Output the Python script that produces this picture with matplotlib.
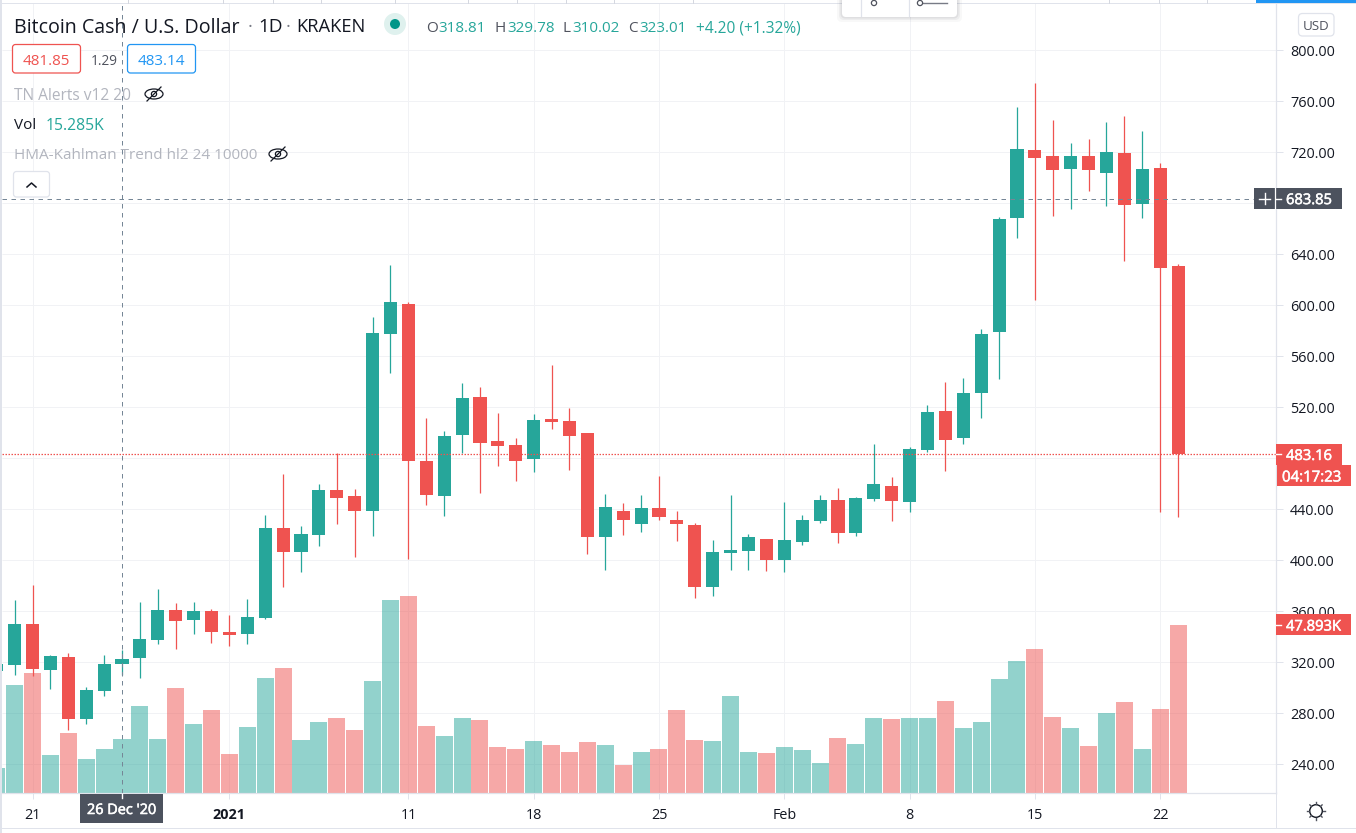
import numpy as np
import matplotlib
matplotlib.use('Agg')
import matplotlib.pyplot as plt
import matplotlib.patheffects as pe
from matplotlib.patches import Circle, Ellipse, FancyBboxPatch, Rectangle

plt.rcParams['font.family'] = ['Open Sans', 'DejaVu Sans']

# daily BCH/USD candles, 19 Dec 2020 to 23 Feb 2021
opens = [313, 318, 350, 314, 324.5, 276, 297.7, 318.81, 323.5, 337.6, 361, 353.3, 360.4,
         344, 342.4, 355, 425.5, 406.7, 420, 455, 450.6, 439, 577.8, 601, 478, 450.6, 498.4,
         528, 493.7, 490.6, 479.6, 511, 509.4, 500, 418.4, 439, 428.7, 441, 432, 428, 379,
         406, 407.6, 417, 400, 414.6, 431, 447.6, 421.6, 448, 458.4, 446, 486.6, 517.6, 496,
         531.4, 579, 668.6, 722, 717, 707, 717, 704, 719.6, 679.6, 707.8, 631]
highs = [321, 369, 381, 326, 327.5, 301, 326, 329.78, 367.5, 377.6, 366.7, 367.5, 362,
         357.2, 370, 436, 468, 427, 460, 484.3, 456, 591, 632, 603, 512, 501.6, 539,
         536, 515.7, 496, 515, 553, 519.6, 500, 452, 445, 451.4, 466, 439, 429.4, 416,
         451.4, 421, 417, 446, 436, 451.4, 457, 450, 491.4, 465.5, 489, 522, 540, 543,
         581.6, 669.5, 755.6, 774.5, 745.5, 727.5, 730.6, 744, 748.6, 737, 712, 632.6]
lows = [312, 310, 309, 299, 267, 272, 293.7, 310.02, 308, 334.5, 330.6, 342.4, 335.3,
        333, 334.5, 354, 379, 391, 411, 428.6, 403, 419, 547, 401, 443.4, 435, 484,
        453, 474, 462, 469.4, 503, 471, 405, 392.5, 420, 422, 432, 415, 370.6, 372,
        392.5, 392.5, 392, 391, 412, 429.4, 414, 419, 446.7, 431, 438, 485, 470, 491.4,
        511.7, 542.5, 653, 604, 670, 675.7, 690, 678, 635, 668.6, 438, 434]
closes = [319, 350.2, 315, 325, 276, 298.5, 318.81, 323.01, 338.4, 361, 352.6, 360.4, 344,
          341.6, 355.7, 425.5, 406.7, 421, 455, 449, 439, 578.6, 602.7, 478, 451.4, 497.6, 527.5,
          492, 490, 478, 510, 508.6, 497.6, 418.4, 442, 432, 441, 434, 428.7, 379, 406.7,
          408, 418.4, 400, 416, 432, 447.6, 421.6, 449, 460, 446.7, 487.4, 516.5, 494.6, 531.4,
          577.6, 668, 722.7, 715.7, 706, 717, 706, 720.4, 679, 707, 629.4, 483.16]
volumes = [7.1, 30.8, 34.2, 10.8, 17.1, 9.7, 12.5, 15.285, 24.8, 15.4, 29.9, 19.7, 23.7,
           11.1, 18.8, 32.8, 35.6, 15.1, 20.2, 21.4, 18.0, 31.9, 55.0, 56.2, 19.1, 16.3, 21.4,
           20.8, 13.1, 12.5, 14.8, 13.7, 11.7, 14.5, 13.7, 8.0, 11.7, 12.5, 23.7, 15.1, 14.8,
           27.7, 11.7, 11.4, 13.1, 12.3, 8.6, 15.7, 14.0, 21.4, 21.1, 21.4, 21.4, 26.2, 18.5,
           20.2, 32.5, 37.6, 41.1, 21.7, 18.5, 13.4, 22.8, 25.9, 12.5, 23.9, 47.893]

price_ticks = [240, 280, 320, 360, 400, 440, 480, 520, 560, 600, 640, 680, 720, 760, 800]
hidden_ticks = [480, 680]  # these two sit under the price tags
day_ticks = [2, 13, 23, 30, 37, 44, 51, 58, 65]
day_labels = ['21', '2021', '11', '18', '25', 'Feb', '8', '15', '22']

last_price = 483.16
last_volume = 47.893
cross_price = 683.85
cross_day = 7

GREEN = '#26a69a'
RED = '#ef5350'
BORDER = '#e0e3eb'
GRID = '#f1f2f5'
TEXT = '#131722'
MUTED = '#b2b5be'
DARK_TAG = '#4c525e'
CROSS = '#758696'
W, H = 1356, 833

opens, highs, lows, closes = map(np.array, (opens, highs, lows, closes))
volumes = np.array(volumes)
days = np.arange(len(opens))
up = closes >= opens
colors = np.where(up, GREEN, RED)

fig = plt.figure(figsize=(W / 100, H / 100), dpi=100, facecolor='white')

# pane covers x 2..1276, y 3..793 in screen pixels
ax_vol = fig.add_axes([2 / W, 1 - 793 / H, 1274 / W, 790 / H])
ax = ax_vol.twinx()
ax.set_zorder(ax_vol.get_zorder() + 1)
ax.patch.set_visible(False)

ax.set_xlim(0.296, 71.47)
ax.set_ylim(217.6, 837.25)
ax_vol.set_ylim(0, 225.2)

# grid sits under the volume bars
ax_vol.vlines(day_ticks, 0, 225.2, color=GRID, lw=0.72, zorder=0)
ax_vol.hlines(price_ticks, 0.296, 71.47, color=GRID, lw=0.72, zorder=0, transform=ax.transData)

ax_vol.bar(days, volumes, width=0.95, color=colors, alpha=0.5, zorder=2, linewidth=0)

# candles
ax.vlines(days, lows, highs, color=colors, lw=0.9, zorder=3)
ax.bar(days, np.abs(closes - opens), bottom=np.minimum(opens, closes), width=0.73,
       color=colors, linewidth=0, zorder=4)

ax.axhline(last_price, color=RED, lw=0.9, ls=(0, (1.2, 1.2)), zorder=5)
ax.axhline(cross_price, color=CROSS, lw=0.72, ls=(0, (4.5, 4.5)), zorder=6)
ax.axvline(cross_day, color=CROSS, lw=0.72, ls=(0, (4.5, 4.5)), zorder=6)

ax_vol.set_yticks([])
ax.yaxis.tick_right()
ax.set_yticks(price_ticks, ['' if p in hidden_ticks else f'{p:.2f}' for p in price_ticks])
ax.tick_params(axis='y', direction='out', length=5, width=0.72, color=BORDER, pad=5,
               labelsize=10.4, labelcolor=TEXT)

# the twin hides its own x axis, so the time scale belongs to the volume axes
ax_vol.set_xticks(day_ticks, day_labels)
ax_vol.tick_params(axis='x', direction='out', length=4, width=0.72, color=BORDER, pad=6.5,
                   labelsize=10.4, labelcolor=TEXT)
ax_vol.get_xticklabels()[1].set_fontweight('bold')

for a in (ax, ax_vol):
    a.spines['top'].set_visible(False)
    a.spines['left'].set_visible(False)
    a.spines['right'].set_color(BORDER)
    a.spines['bottom'].set_color(BORDER)


# everything around the chart is laid out in screen pixels on a transparent layer
ui = fig.add_axes([0, 0, 1, 1], zorder=10)
ui.set_xlim(0, W)
ui.set_ylim(H, 0)
ui.axis('off')


def label(x, y, s, color=TEXT, size=11, ha='left', **kw):
    return ui.text(x, y, s, color=color, fontsize=size, ha=ha, va='center_baseline', **kw)


def tag_label(x, y, s, size=10.6, ha='left'):
    t = label(x, y, s, color='white', size=size, ha=ha, zorder=3)
    t.set_path_effects([pe.withStroke(linewidth=0.4, foreground='white')])


def rect(x0, y0, x1, y1, color, z=2):
    ui.add_patch(Rectangle((x0, y0), x1 - x0, y1 - y0, facecolor=color, edgecolor='none', zorder=z))


def button(x0, y0, x1, y1, edge, radius=3, z=2):
    ui.add_patch(FancyBboxPatch((x0, y0), x1 - x0, y1 - y0, boxstyle=f'round,pad=0,rounding_size={radius}',
                                facecolor='white', edgecolor=edge, lw=0.9, zorder=z))


def eye(x, y):
    ui.add_patch(Ellipse((x, y), 18, 10, facecolor='none', edgecolor=TEXT, lw=0.9))
    ui.add_patch(Circle((x, y), 2.6, facecolor='none', edgecolor=TEXT, lw=0.9))
    ui.plot([x - 7, x + 7], [y + 7, y - 7], color=TEXT, lw=0.9)


def price_y(price):
    return H - ax.transData.transform((0, price))[1]


def volume_y(vol):
    return H - ax_vol.transData.transform((0, vol))[1]


# frame of the surrounding window
rect(0, 0, W, 3, 'white', z=1)
rect(0, 3, W, 4, BORDER, z=1)
rect(0, 0, 2, H, BORDER)
rect(1256, 0, W, 3, '#2196f3')
rect(0, 828, W, 829, BORDER)
ui.plot([1276, 1276], [793, 828], color=BORDER, lw=0.72)
for sx in [128, 223, 273, 321, 395, 468, 517, 566, 614, 693, 1109, 1159, 1207]:
    ui.plot([sx, sx], [0, 3], color='#d5d8e0', lw=0.72)

# floating drawing toolbar at the top edge
for grow, alpha in [(5, 0.03), (3, 0.05), (1.5, 0.07)]:
    ui.add_patch(FancyBboxPatch((842 - grow, -10), 115 + 2 * grow, 27 + grow,
                                boxstyle='round,pad=0,rounding_size=5', facecolor='#2a2e39',
                                edgecolor='none', alpha=alpha, zorder=2))
button(842, -10, 957, 17, 'none', radius=4, z=3)
ui.plot([860.5, 860.5], [0, 16], color=BORDER, lw=0.9, zorder=4)
ui.plot([908.5, 908.5], [0, 16], color=BORDER, lw=0.9, zorder=4)
ui.add_patch(Circle((874, 3), 2.6, facecolor='white', edgecolor='#50535e', lw=0.9, zorder=4))
ui.plot([923, 947], [3, 3], color='#787b86', lw=1, zorder=4)
ui.add_patch(Circle((920, 3), 2.6, facecolor='white', edgecolor='#50535e', lw=0.9, zorder=5))

# legend block
label(14, 25, 'Bitcoin Cash / U.S. Dollar', size=14.1)
label(247.5, 25, '·', color='#787b86', size=13.2)
label(258, 25, '1D', size=13.6)
label(285.5, 25, '·', color='#787b86', size=13.2)
label(296, 25, 'KRAKEN', size=13.2)
ui.add_patch(Circle((395, 24), 11, facecolor='#dff1ee', edgecolor='none'))
ui.add_patch(Circle((395, 24), 5, facecolor='#009688', edgecolor='none'))

for lx, letter, vx, value in [(426, 'O', 438, opens[cross_day]), (495, 'H', 507, highs[cross_day]),
                              (563, 'L', 572, lows[cross_day]), (628, 'C', 639, closes[cross_day])]:
    label(lx, 26, letter, color='#50535e')
    label(vx, 26, f'{value:.2f}', color=GREEN)
label(696, 26, '+4.20 (+1.32%)', color=GREEN, size=11.2)

button(12.5, 44.5, 80.5, 73, RED)
label(46.5, 59, '481.85', color=RED, ha='center')
label(104, 59, '1.29', color='#50535e', ha='center', size=9.8)
button(127.5, 44.5, 195.5, 73, '#2196f3')
label(161.5, 59, '483.14', color='#2196f3', ha='center')

label(14, 93.5, 'TN Alerts v12 20', color=MUTED, size=11.2)
eye(154, 94)
label(14, 123.5, 'Vol')
label(46, 123.5, f'{volumes[cross_day]:.3f}K', color=GREEN, size=11.3)
label(14, 153.5, 'HMA-Kahlman Trend hl2 24 10000', color=MUTED)
eye(278, 154)

button(13.5, 171.5, 49.5, 197, BORDER)
ui.plot([27, 31.5, 36], [187, 183, 187], color=TEXT, lw=1.1)

button(1298.5, 13.5, 1334, 36, BORDER, radius=4)
label(1316, 25, 'USD', color='#50535e', ha='center', size=9.6)

# tags on the price scale
cy = price_y(cross_price)
rect(1254, cy - 10.5, 1342, cy + 10.5, DARK_TAG)
ui.plot([1275, 1275], [cy - 10.5, cy + 10.5], color='white', lw=0.9, zorder=3)
ui.plot([1259, 1270], [cy, cy], color='white', lw=1, zorder=3)
ui.plot([1264.5, 1264.5], [cy - 5.5, cy + 5.5], color='white', lw=1, zorder=3)
ui.plot([1276, 1281], [cy, cy], color='white', lw=1, zorder=3)
tag_label(1286, cy, f'{cross_price:.2f}')

ly = price_y(last_price)
rect(1276, ly - 10.5, 1342, ly + 10.5, RED)
ui.plot([1276, 1281], [ly, ly], color='white', lw=1, zorder=3)
tag_label(1286, ly, f'{last_price:.2f}')
rect(1277, ly + 11, 1351, ly + 32, RED)
tag_label(1282, ly + 21.5, '04:17:23', size=10.8)

vy = volume_y(last_volume)
rect(1276, vy - 10.5, 1351, vy + 10.5, RED)
ui.plot([1276, 1281], [vy, vy], color='white', lw=1, zorder=3)
tag_label(1286, vy, f'{last_volume:.3f}K')

# crosshair date on the time scale
rect(80, 794, 163, 823, DARK_TAG)
tag_label(121.5, 808.5, "26 Dec '20", size=10.4, ha='center')
ui.plot([122, 122], [794, 798], color='white', lw=1, zorder=3)

# settings gear
ui.add_patch(Circle((1316, 811), 6.3, facecolor='white', edgecolor=TEXT, lw=1))
for a in np.deg2rad(np.arange(0, 360, 45)):
    ui.plot([1316 + 6.8 * np.cos(a), 1316 + 8.6 * np.cos(a)], [811 + 6.8 * np.sin(a), 811 + 8.6 * np.sin(a)],
            color='#50535e', lw=1)

fig.savefig('out.png', dpi=100)
